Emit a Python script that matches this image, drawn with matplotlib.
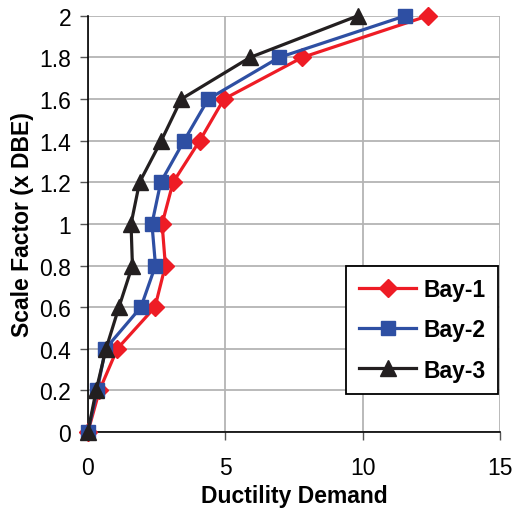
import matplotlib
matplotlib.use("Agg")
import matplotlib.pyplot as plt
from matplotlib.ticker import FuncFormatter

# scale factors and ductility demand per bay
scale = [0, 0.2, 0.4, 0.6, 0.8, 1.0, 1.2, 1.4, 1.6, 1.8, 2.0]
bay1 = [0, 0.42, 1.07, 2.44, 2.82, 2.7, 3.1, 4.07, 4.95, 7.8, 12.37]
bay2 = [0, 0.34, 0.64, 1.93, 2.46, 2.33, 2.65, 3.5, 4.38, 6.96, 11.55]
bay3 = [0, 0.3, 0.66, 1.13, 1.62, 1.57, 1.88, 2.67, 3.4, 5.9, 9.82]

plt.rcParams['font.family'] = ['Liberation Sans', 'DejaVu Sans']

fig = plt.figure(figsize=(5.14, 5.10), dpi=100)
ax = fig.add_axes([0.171, 0.151, 0.802, 0.816])

ax.plot(bay1, scale, color='#ee1c25', lw=2.3, marker='D', ms=9, label='Bay-1', clip_on=False, zorder=3)
ax.plot(bay2, scale, color='#2e4fa3', lw=2.3, marker='s', ms=10, label='Bay-2', clip_on=False, zorder=4)
ax.plot(bay3, scale, color='#231f20', lw=2.3, marker='^', ms=11, label='Bay-3', clip_on=False, zorder=5)

ax.set_xlim(0, 15)
ax.set_ylim(0, 2)
ax.set_xticks([0, 5, 10, 15])
ax.set_yticks([i * 0.2 for i in range(11)])
ax.yaxis.set_major_formatter(FuncFormatter(lambda v, p: '%g' % round(v, 1)))

ax.grid(True, color='#b4b4b4', lw=1.3)
ax.set_axisbelow(True)
for s in ['top', 'right']:
    ax.spines[s].set_visible(False)
for s in ['left', 'bottom']:
    ax.spines[s].set_color('black')
    ax.spines[s].set_linewidth(1.2)

ax.tick_params(labelsize=16.5, length=6, width=1, color='#555555')
ax.tick_params(axis='x', pad=11)
ax.tick_params(axis='y', pad=6)
ax.set_xlabel('Ductility Demand', fontsize=16.5, fontweight='bold', labelpad=4)
ax.set_ylabel('Scale Factor (x DBE)', fontsize=16.5, fontweight='bold', labelpad=4)

leg = ax.legend(loc='lower right', bbox_to_anchor=(0.995, 0.091),
                prop={'weight': 'bold', 'size': 16.5}, fancybox=False, framealpha=1,
                edgecolor='black', handlelength=2.5, borderpad=0.55, labelspacing=0.75,
                borderaxespad=0, handletextpad=0.3)
leg.get_frame().set_linewidth(1.3)

fig.savefig('out.png', dpi=100)
